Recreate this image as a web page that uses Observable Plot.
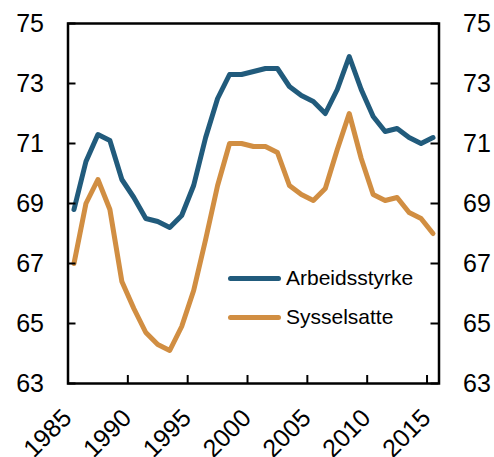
<!DOCTYPE html>
<html><head><meta charset="utf-8">
<script src="https://cdn.jsdelivr.net/npm/d3@7"></script>
<script src="https://cdn.jsdelivr.net/npm/@observablehq/plot@0.6"></script>
<style>
body{margin:0;background:#fff;font-family:"Liberation Sans",Arial,sans-serif}
#wrap{position:relative;width:494px;height:457px;overflow:hidden}
.leg{position:absolute;display:flex;align-items:center;font-size:21px;color:#000;white-space:nowrap}
.leg .sw{width:53px;height:5px;border-radius:3px;margin-right:5px}
</style>
</head><body><div id="wrap"></div>
<script>
const years = [1985,1986,1987,1988,1989,1990,1991,1992,1993,1994,1995,1996,1997,1998,1999,2000,2001,2002,2003,2004,2005,2006,2007,2008,2009,2010,2011,2012,2013,2014,2015];
const arbeidsstyrke = [68.8,70.4,71.3,71.1,69.8,69.2,68.5,68.4,68.2,68.6,69.6,71.2,72.5,73.3,73.3,73.4,73.5,73.5,72.9,72.6,72.4,72.0,72.8,73.9,72.8,71.9,71.4,71.5,71.2,71.0,71.2];
const sysselsatte = [67.0,69.0,69.8,68.8,66.4,65.5,64.7,64.3,64.1,64.9,66.1,67.8,69.6,71.0,71.0,70.9,70.9,70.7,69.6,69.3,69.1,69.5,70.8,72.0,70.5,69.3,69.1,69.2,68.7,68.5,68.0];
const seriesNames = ["Arbeidsstyrke","Sysselsatte"];
const colors = ["#215b7c","#d18e42"];
const yTicks = [63,65,67,69,71,73,75];
const xTicks = [1985,1990,1995,2000,2005,2010,2015];

const data = years.flatMap((yr,i)=>[
  {year:yr, value:arbeidsstyrke[i], series:seriesNames[0]},
  {year:yr, value:sysselsatte[i], series:seriesNames[1]}
]);

const W=494,H=457,mL=67.5,mR=55.5,mT=23,mB=74;
const pw=W-mL-mR, ph=H-mT-mB, tk=8;
const font="Liberation Sans, Arial, sans-serif";

const chart = Plot.plot({
  width:W, height:H, marginLeft:mL, marginRight:mR, marginTop:mT, marginBottom:mB,
  x:{domain:[1985,2016], axis:null},
  y:{domain:[63,75], axis:null},
  color:{domain:seriesNames, range:colors},
  style:{fontFamily:font, fontSize:"25px", color:"#000", background:"#fff", overflow:"visible"},
  marks:[
    Plot.line(data,{x:d=>d.year+0.5, y:"value", stroke:"series", z:"series", strokeWidth:5, strokeLinecap:"round", strokeLinejoin:"round"}),
    Plot.frame({stroke:"#000", strokeWidth:2.5}),
    Plot.tickY(yTicks,{y:d=>d, insetRight:pw-tk, stroke:"#000", strokeWidth:2}),
    Plot.tickY(yTicks,{y:d=>d, insetLeft:pw-tk, stroke:"#000", strokeWidth:2}),
    Plot.tickX(xTicks,{x:d=>d, insetTop:ph-tk, stroke:"#000", strokeWidth:2}),
    Plot.text(yTicks,{y:d=>d, frameAnchor:"left", dx:-24, textAnchor:"end", text:d=>String(d), fontSize:25, fill:"#000"}),
    Plot.text(yTicks,{y:d=>d, frameAnchor:"right", dx:24, textAnchor:"start", text:d=>String(d), fontSize:25, fill:"#000"}),
    Plot.text(xTicks,{x:d=>d, frameAnchor:"bottom", rotate:-45, textAnchor:"end", dx:5, dy:36, text:d=>String(d), fontSize:25, fill:"#000"})
  ]
});
const wrap=document.getElementById("wrap");
wrap.appendChild(chart);
const legPos=[278,317];
seriesNames.forEach((n,i)=>{
  const d=document.createElement("div");
  d.className="leg";
  d.style.left="228px";
  d.style.top=(legPos[i]-13)+"px";
  d.style.height="26px";
  d.innerHTML=`<span class="sw" style="background:${colors[i]}"></span><span>${n}</span>`;
  wrap.appendChild(d);
});
</script>
</body></html>
